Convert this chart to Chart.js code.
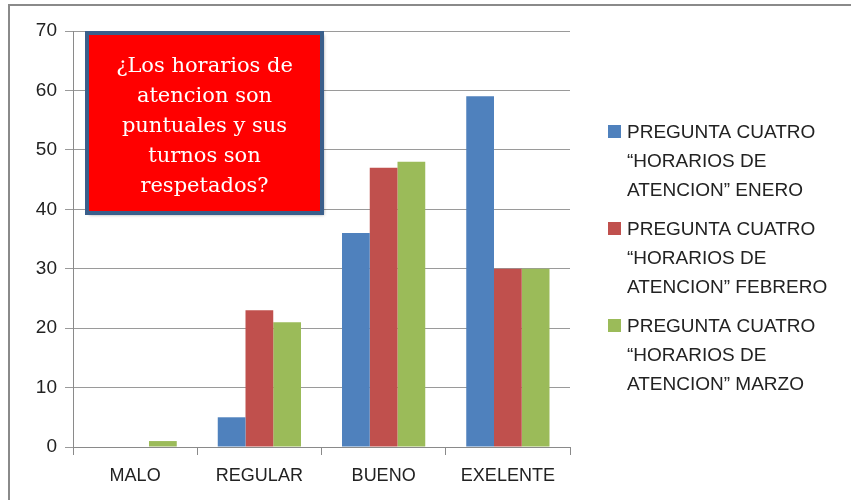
<!DOCTYPE html>
<html>
<head>
<meta charset="utf-8">
<script src="https://cdn.jsdelivr.net/npm/chart.js@4.4.1/dist/chart.umd.min.js"></script>
<style>
    html, body { margin: 0; padding: 0; background: #fff; }
    #marco { position: relative; width: 851px; height: 500px; overflow: hidden; }
    #borde { position: absolute; left: 8px; top: 4px; width: 900px; height: 600px;
             border-top: 2px solid #8a8a8a; border-left: 2px solid #8a8a8a; }
    canvas { position: absolute; left: 0; top: 0; }
</style>
</head>
<body>
<div id="marco">
    <div id="borde"></div>
    <canvas id="grafica" width="851" height="500"></canvas>
</div>
<script>
    // datos
    const categorias = ["MALO", "REGULAR", "BUENO", "EXELENTE"];
    const enero = [0, 5, 36, 59];
    const febrero = [0, 23, 47, 30];
    const marzo = [1, 21, 48, 30];
    const etiquetasSeries = [
        ["PREGUNTA CUATRO", "\u201CHORARIOS DE", "ATENCION\u201D ENERO"],
        ["PREGUNTA CUATRO", "\u201CHORARIOS DE", "ATENCION\u201D FEBRERO"],
        ["PREGUNTA CUATRO", "\u201CHORARIOS DE", "ATENCION\u201D MARZO"]
    ];
    const colores = ["#4F81BD", "#C0504D", "#9BBB59"];
    const tituloLineas = ["\u00BFLos horarios de", "atencion son", "puntuales y sus", "turnos son", "respetados?"];

    // cuadro rojo con la pregunta y leyenda a la derecha
    const dibujosExtra = {
        id: 'dibujosExtra',
        afterDraw(chart) {
            const ctx = chart.ctx;
            ctx.save();

            // cuadro del titulo
            const x = 87, y = 33, w = 235, h = 180;
            ctx.shadowColor = 'rgba(0,0,0,0.35)';
            ctx.shadowOffsetX = 2;
            ctx.shadowOffsetY = 2;
            ctx.shadowBlur = 3;
            ctx.fillStyle = '#FF0000';
            ctx.fillRect(x, y, w, h);
            ctx.shadowColor = 'transparent';
            ctx.strokeStyle = '#3A5F8B';
            ctx.lineWidth = 4;
            ctx.strokeRect(x, y, w, h);

            ctx.fillStyle = '#ffffff';
            ctx.font = '21px "DejaVu Serif"';
            ctx.textAlign = 'center';
            ctx.textBaseline = 'middle';
            tituloLineas.forEach((linea, i) => {
                ctx.fillText(linea, x + w / 2, 67 + i * 30);
            });

            // leyenda
            ctx.font = '19px "Liberation Sans"';
            ctx.textAlign = 'left';
            ctx.textBaseline = 'alphabetic';
            chart.data.datasets.forEach((ds, i) => {
                const top = 125 + i * 97;
                ctx.fillStyle = ds.backgroundColor;
                ctx.fillRect(608, top, 13, 13);
                ctx.fillStyle = '#222';
                ds.label.forEach((linea, j) => {
                    ctx.fillText(linea, 627, top + 13 + j * 29);
                });
            });

            ctx.restore();
        }
    };

    const ctx = document.getElementById('grafica');

    new Chart(ctx, {
        type: 'bar',
        data: {
            labels: categorias,
            datasets: [
                { label: etiquetasSeries[0], data: enero, backgroundColor: colores[0] },
                { label: etiquetasSeries[1], data: febrero, backgroundColor: colores[1] },
                { label: etiquetasSeries[2], data: marzo, backgroundColor: colores[2] }
            ]
        },
        options: {
            responsive: false,
            animation: false,
            devicePixelRatio: 1,
            categoryPercentage: 0.67,
            barPercentage: 1,
            layout: {
                padding: { top: 31, right: 281, left: 0, bottom: 0 }
            },
            plugins: {
                legend: { display: false },
                tooltip: { enabled: false }
            },
            scales: {
                x: {
                    grid: {
                        offset: true,
                        drawOnChartArea: false,
                        drawTicks: true,
                        tickLength: 8,
                        color: '#8a8a8a'
                    },
                    border: { color: '#8a8a8a' },
                    ticks: {
                        color: '#222',
                        font: { family: 'Liberation Sans', size: 18 },
                        padding: 10
                    },
                    afterFit(scale) { scale.height = 53; }
                },
                y: {
                    min: 0,
                    max: 70,
                    grid: {
                        color: '#9a9a9a',
                        tickLength: 8
                    },
                    border: { color: '#8a8a8a' },
                    ticks: {
                        stepSize: 10,
                        color: '#222',
                        font: { family: '"Liberation Sans Narrow", "Liberation Sans"', size: 19 },
                        padding: 8
                    },
                    afterFit(scale) { scale.width = 73; }
                }
            }
        },
        plugins: [dibujosExtra]
    });
</script>
</body>
</html>
